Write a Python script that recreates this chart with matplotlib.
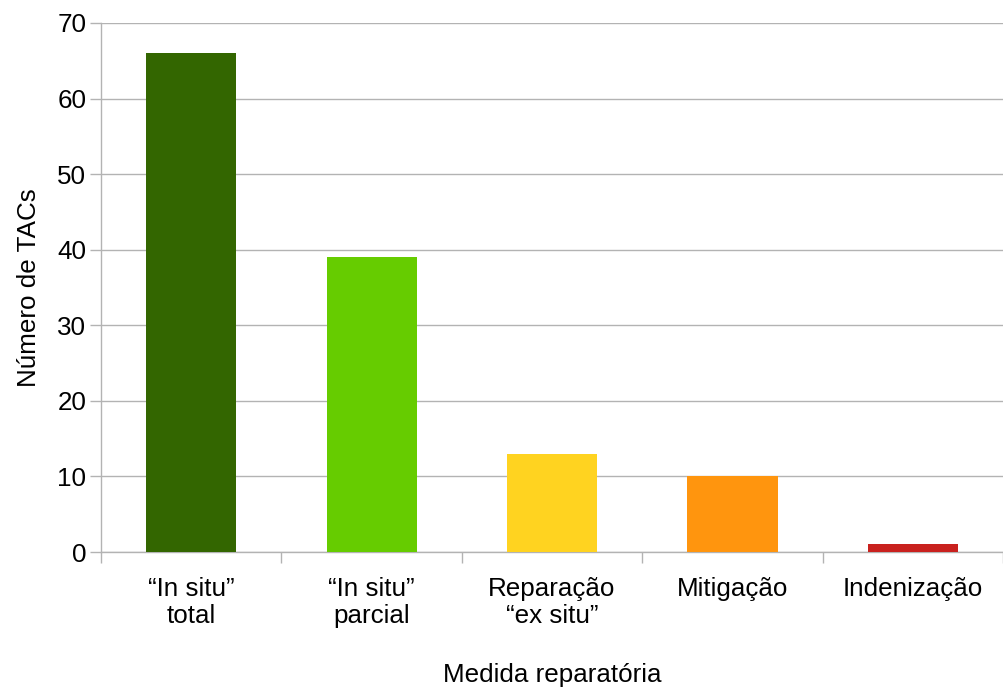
import matplotlib
matplotlib.use("Agg")
import matplotlib.pyplot as plt
import numpy as np

categorias = ["\u201cIn situ\u201d\ntotal", "\u201cIn situ\u201d\nparcial",
              "Reparação\n\u201cex situ\u201d", "Mitigação", "Indenização"]
valores = [66, 39, 13, 10, 1]
cores = ["#336600", "#66cc00", "#ffd320", "#ff950e", "#c9211e"]

plt.rcParams["font.family"] = ["Liberation Sans", "DejaVu Sans"]
cinza = "#b3b3b3"

fig = plt.figure(figsize=(10.04, 6.88), dpi=100)
ax = fig.add_axes([101 / 1004, 1 - 552 / 688, 902 / 1004, 529 / 688])

x = np.arange(len(valores))
ax.bar(x, valores, width=0.5, color=cores, zorder=3)

ax.set_xlim(-0.5, len(valores) - 0.5)
ax.set_ylim(0, 70)
ax.set_yticks(range(0, 71, 10))
ax.yaxis.grid(True, color=cinza, linewidth=1.0, zorder=0)

ax.set_xticks(x)
ax.set_xticklabels(categorias, fontsize=18.7, linespacing=1.15)
ax.tick_params(axis="x", length=0, pad=18)
ax.set_xticks(np.arange(-0.5, len(valores), 1.0), minor=True)
ax.tick_params(axis="x", which="minor", length=8, color=cinza, width=1.0)
ax.tick_params(axis="y", length=8, color=cinza, width=1.0, labelsize=18.7, pad=2.5)

for lado in ["top", "right"]:
    ax.spines[lado].set_visible(False)
for lado in ["left", "bottom"]:
    ax.spines[lado].set_color(cinza)
    ax.spines[lado].set_linewidth(1.0)

ax.set_ylabel("Número de TACs", fontsize=18.7, labelpad=12)
fig.text(552 / 1004, 1 - 675 / 688, "Medida reparatória", fontsize=18.7,
         ha="center", va="center")

fig.savefig("out.png", dpi=100)
